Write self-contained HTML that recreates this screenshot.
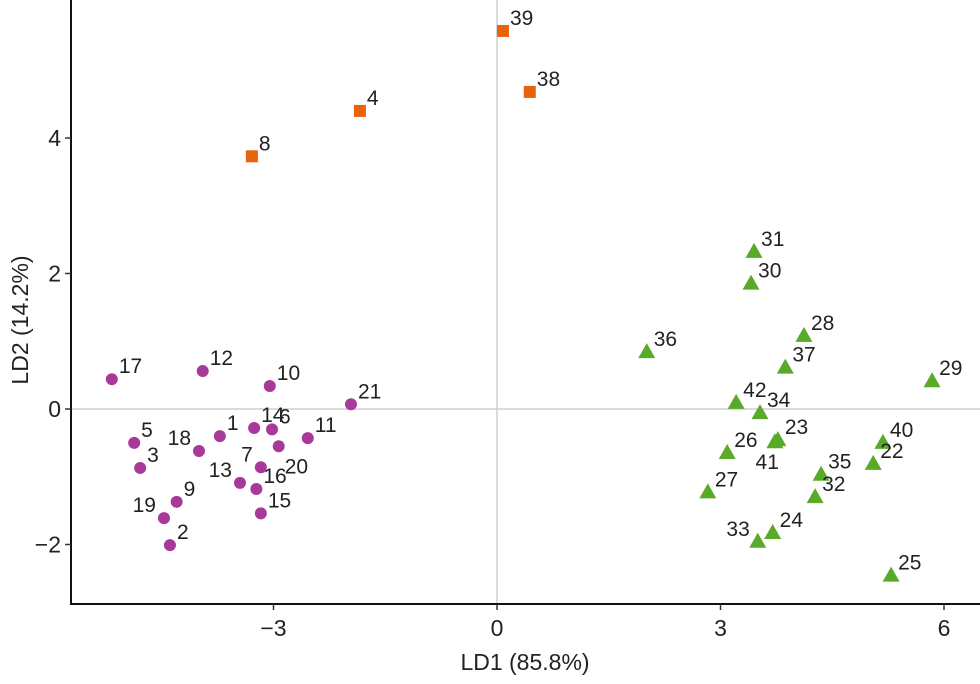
<!DOCTYPE html>
<html><head><meta charset="utf-8"><style>
html,body{margin:0;padding:0;background:#fff;}
svg{display:block;font-family:"Liberation Sans",Arial,sans-serif;}
</style></head><body>
<svg id="chart" width="980" height="684"></svg>
<script>
const groupA_ids=[17,12,10,21,1,14,6,18,5,3,11,20,7,13,16,15,9,19,2];
const groupA_x=[-5.17,-3.95,-3.05,-1.96,-3.72,-3.26,-3.02,-4.0,-4.87,-4.79,-2.54,-2.93,-3.17,-3.45,-3.23,-3.17,-4.30,-4.47,-4.39];
const groupA_y=[0.44,0.56,0.34,0.07,-0.40,-0.28,-0.30,-0.62,-0.50,-0.87,-0.43,-0.55,-0.86,-1.09,-1.18,-1.54,-1.37,-1.61,-2.01];
const groupB_ids=[39,38,4,8];
const groupB_x=[0.08,0.44,-1.84,-3.29];
const groupB_y=[5.58,4.68,4.40,3.73];
const groupC_ids=[31,30,36,28,37,29,42,34,23,26,40,22,35,32,27,24,33,25,41];
const groupC_x=[3.45,3.41,2.01,4.12,3.87,5.84,3.21,3.53,3.77,3.09,5.18,5.05,4.35,4.27,2.83,3.70,3.50,5.29,3.73];
const groupC_y=[2.32,1.85,0.84,1.08,0.61,0.41,0.09,-0.06,-0.46,-0.65,-0.50,-0.81,-0.97,-1.30,-1.23,-1.83,-1.96,-2.46,-0.49];
const xTicks=[-3,0,3,6];
const yTicks=[-2,0,2,4];
const leftLabels=[18,13,19,33,7];
const belowLabels=[41,20];

const NS="http://www.w3.org/2000/svg";
const svg=document.getElementById('chart');
const X=d=>497+74.5*d, Y=d=>409-67.75*d;
const L=71,B=604,R=980,T=0;
function mk(t,a,p){const e=document.createElementNS(NS,t);for(const k in a)e.setAttribute(k,a[k]);(p||svg).appendChild(e);return e;}
let zl=mk('line',{x1:X(0),x2:X(0),y1:T,y2:B,stroke:'#cfcfcf','stroke-width':1.5});


let zl2=mk('line',{x1:L,x2:R,y1:Y(0),y2:Y(0),stroke:'#cfcfcf','stroke-width':1.5});


let ax=mk('path',{d:`M${L},${T} V${B} H${R}`,fill:'none',stroke:'#111','stroke-width':2});


xTicks.forEach(v=>{
 const t=mk('line',{x1:X(v),x2:X(v),y1:B,y2:B+6,stroke:'#333','stroke-width':1.5});
 
 
 const l=mk('text',{x:X(v),y:B+32,'text-anchor':'middle','font-size':23,fill:'#222'});
 l.textContent=v<0?'\u2212'+(-v):String(v);
 
 
});
yTicks.forEach(v=>{
 const t=mk('line',{x1:L-6,x2:L,y1:Y(v),y2:Y(v),stroke:'#333','stroke-width':1.5});
 
 
 const l=mk('text',{x:L-10,y:Y(v)+8,'text-anchor':'end','font-size':23,fill:'#222'});
 l.textContent=v<0?'\u2212'+(-v):String(v);
 
 
});
let xt=mk('text',{x:525,y:670,'text-anchor':'middle','font-size':23,fill:'#222'});
xt.textContent='LD1 (85.8%)';


let yt=mk('text',{x:0,y:0,'text-anchor':'middle','font-size':23,fill:'#222',transform:'translate(28,320) rotate(-90)'});
yt.textContent='LD2 (14.2%)';



function label(id,px,py){
 const left=leftLabels.includes(id), below=belowLabels.includes(id);
 let x=left?px-8:px+7, y=py-6, anchor=left?'end':'start';
 if(below){x=px+6;y=py+27;anchor=id===41?'end':'start';if(id===41)x=px+4;}
 const t=mk('text',{x:x,y:y,'text-anchor':anchor,'font-size':21,fill:'#222'});
 t.textContent=String(id);
 
 
}
groupA_ids.forEach((id,i)=>{
 const px=X(groupA_x[i]),py=Y(groupA_y[i]);
 const c=mk('circle',{cx:px,cy:py,r:6,fill:'#a8399a'});
 
 
 label(id,px,py);
});
groupB_ids.forEach((id,i)=>{
 const px=X(groupB_x[i]),py=Y(groupB_y[i]);
 const s=mk('rect',{x:px-6,y:py-6,width:12,height:12,fill:'#e8640c'});
 
 
 label(id,px,py);
});
groupC_ids.forEach((id,i)=>{
 const px=X(groupC_x[i]),py=Y(groupC_y[i]);
 const p=mk('polygon',{points:`${px},${py-9} ${px-8.5},${py+6} ${px+8.5},${py+6}`,fill:'#5aaa2a'});
 
 
 label(id,px,py);
});
</script>
</body></html>
